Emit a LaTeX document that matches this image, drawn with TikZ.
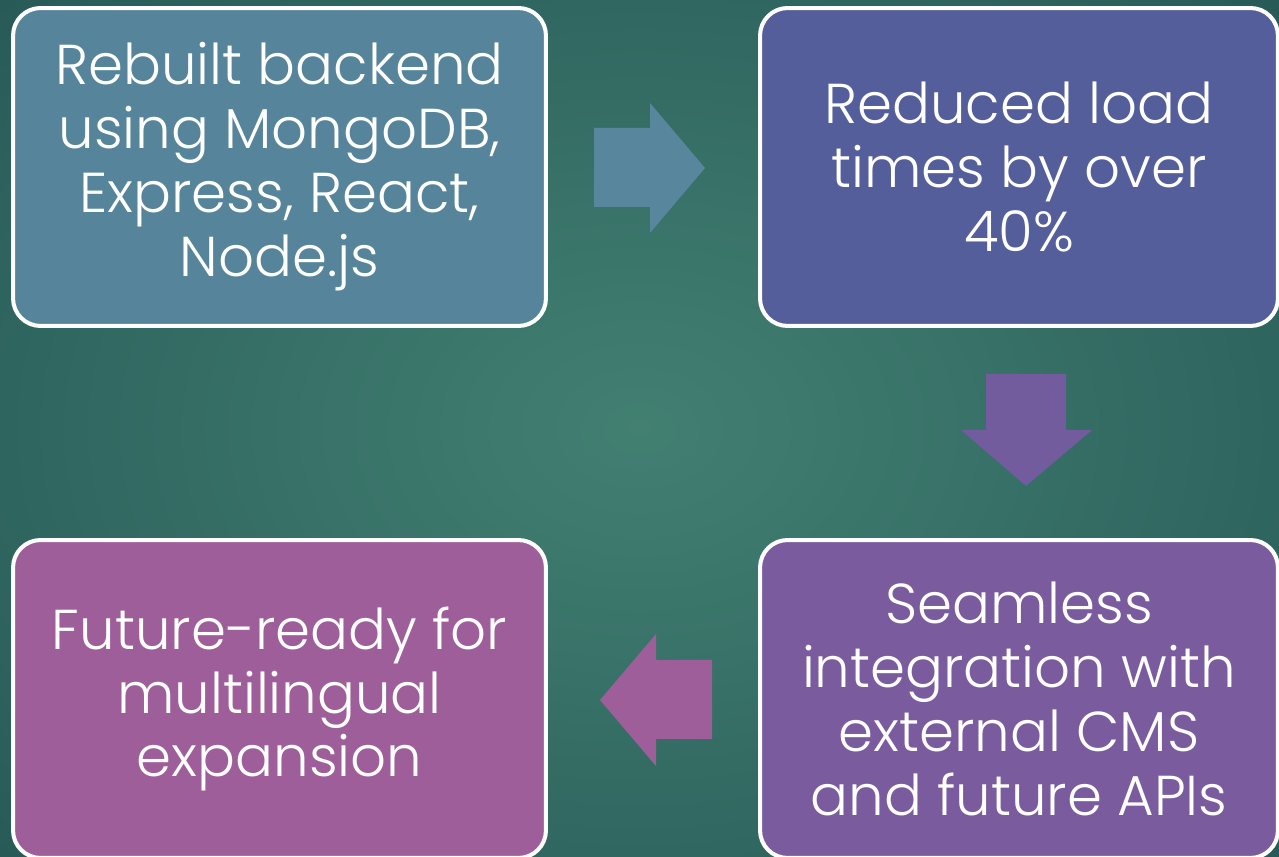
\documentclass[tikz,border=0pt]{standalone}
\usepackage{fontspec}
\setmainfont{Poppins}[UprightFont=* Light]
\usetikzlibrary{positioning}
\usepackage{xcolor}

\definecolor{bginner}{RGB}{66,128,114}
\definecolor{bgouter}{RGB}{38,88,86}
\definecolor{backendblue}{RGB}{85,132,155}
\definecolor{loadindigo}{RGB}{84,94,154}
\definecolor{cmspurple}{RGB}{122,92,158}
\definecolor{futuremauve}{RGB}{158,94,154}

\tikzset{stepbox/.style={draw=white, line width=2.3pt, rounded corners=0.55cm, text=white, align=center, inner sep=0pt, minimum height=6.36cm, font=\fontsize{32}{36.4}\selectfont}}

\begin{document}
\begin{tikzpicture}[x=0.02cm, y=-0.02cm]

\useasboundingbox (0,0) rectangle (1279,857);
\clip (0,0) rectangle (1279,857);
\shade[inner color=bginner, outer color=bgouter] (-300,-250) rectangle (1579,1107);

\node[stepbox, fill=backendblue, minimum width=10.66cm] (backend) at (279.5,167) {Rebuilt backend\\using MongoDB,\\Express, React,\\Node.js};
\node[stepbox, fill=loadindigo, minimum width=10.36cm] (loadtimes) at (1019,167) {Reduced load\\times by over\\40\%};
\node[stepbox, fill=cmspurple, minimum width=10.36cm] (cmsapis) at (1019,699) {Seamless\\integration with\\external CMS\\and future APIs};
\node[stepbox, fill=futuremauve, minimum width=10.66cm] (multilingual) at (279.5,699) {Future-ready for\\multilingual\\expansion};

\fill[backendblue!98!white] (594,128) -- (650,128) -- (650,103) -- (705,168) -- (650,233) -- (650,207) -- (594,207) -- cycle;
\fill[cmspurple!80!loadindigo] (986,374) -- (1066,374) -- (1066,430) -- (1092,430) -- (1026,486) -- (961,430) -- (986,430) -- cycle;
\fill[futuremauve] (712,660) -- (656,660) -- (656,634) -- (600,700) -- (656,766) -- (656,739) -- (712,739) -- cycle;

\end{tikzpicture}
\end{document}
